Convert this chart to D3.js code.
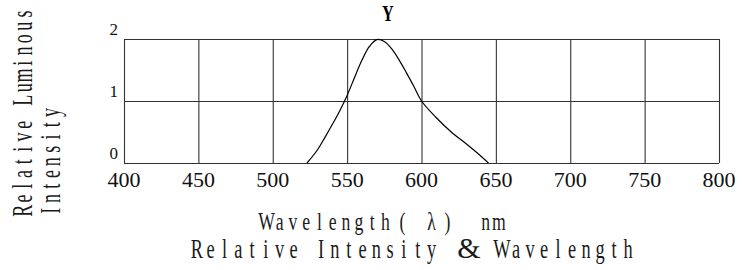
<!DOCTYPE html>
<html>
<head>
<meta charset="utf-8">
<script src="https://cdn.jsdelivr.net/npm/d3@7"></script>
<style>
  body { margin: 0; background: #fff; }
  svg { display: block; }
</style>
</head>
<body>
<svg id="chart" width="745" height="270"></svg>
<script>
// wavelength ticks and y ticks
const xTicks = [400, 450, 500, 550, 600, 650, 700, 750, 800];
const yTicks = [0, 1, 2];

// curve
const wavelength = [523, 530, 535, 540, 545, 550, 555, 560, 565, 570, 575, 580, 585, 590, 595, 600, 610, 620, 630, 640, 645];
const intensity = [0, 0.21, 0.41, 0.62, 0.84, 1.09, 1.38, 1.66, 1.88, 1.99, 1.96, 1.84, 1.66, 1.45, 1.23, 1.0, 0.73, 0.5, 0.31, 0.11, 0];

const svg = d3.select("#chart");

const x = d3.scaleLinear().domain([400, 800]).range([124, 719]);
const y = d3.scaleLinear().domain([0, 2]).range([163, 39]);

const gridColor = "#333";
const serif = "Liberation Serif";

// lay a string out in fixed-width cells, each glyph centred in its cell
// and squeezed sideways (the original uses a tall, narrow song-style face)
function cellText(g, str, x0, yb, cell, sx) {
  g.selectAll(null)
    .data(Array.from(str))
    .join("text")
    .attr("text-anchor", "middle")
    .attr("transform", (c, i) => `translate(${x0 + (i + 0.5) * cell},${yb}) scale(${sx},1)`)
    .text(c => c);
}

// vertical grid
svg.append("g")
  .attr("transform", `translate(0,${y(0)})`)
  .call(d3.axisBottom(x).tickValues(xTicks).tickSize(-(y(0) - y(2))).tickFormat(""))
  .call(g => g.select(".domain").remove())
  .call(g => g.selectAll("line").attr("stroke", gridColor).attr("stroke-width", 1.1));

// horizontal grid
svg.append("g")
  .attr("transform", `translate(${x(400)},0)`)
  .call(d3.axisLeft(y).tickValues(yTicks).tickSize(-(x(800) - x(400))).tickFormat(""))
  .call(g => g.select(".domain").remove())
  .call(g => g.selectAll("line").attr("stroke", gridColor).attr("stroke-width", 1.1));

// x tick labels
svg.append("g")
  .selectAll("text")
  .data(xTicks)
  .join("text")
  .attr("x", d => x(d))
  .attr("y", y(0) + 24)
  .attr("text-anchor", "middle")
  .attr("font-family", serif)
  .attr("font-size", 22)
  .attr("fill", "#111")
  .text(d => d);

// y tick labels
svg.append("g")
  .selectAll("text")
  .data(yTicks)
  .join("text")
  .attr("x", x(400) - 6)
  .attr("y", d => y(d) - 4)
  .attr("text-anchor", "end")
  .attr("font-family", serif)
  .attr("font-size", 17)
  .attr("fill", "#111")
  .text(d => d);

// the curve
const line = d3.line()
  .x((d, i) => x(wavelength[i]))
  .y(d => y(d))
  .curve(d3.curveCatmullRom);

svg.append("path")
  .datum(intensity)
  .attr("d", line)
  .attr("fill", "none")
  .attr("stroke", "#000")
  .attr("stroke-width", 1.2);

// title
svg.append("text")
  .attr("transform", "translate(388,21) scale(0.68,1)")
  .attr("text-anchor", "middle")
  .attr("font-family", serif)
  .attr("font-weight", "bold")
  .attr("font-size", 24)
  .text("Y");

// y axis title
const yTitle = svg.append("g")
  .attr("transform", "translate(0,217) rotate(-90)")
  .attr("font-family", serif)
  .attr("font-size", 30)
  .attr("fill", "#1a1a1a");
cellText(yTitle.append("g"), "Relative Luminous", 0, 32, 12.3, 0.6);
cellText(yTitle.append("g"), "Intensity", 0, 60, 12.3, 0.6);

// x axis title
const xTitle = svg.append("g")
  .attr("font-family", serif)
  .attr("font-size", 26)
  .attr("fill", "#1a1a1a");
const cx = 13.2;
cellText(xTitle.append("g"), "Wavelength", 260, 230, cx, 0.68);
[["(", 10.3], ["λ", 12.5], [")", 13.7], ["nm", 16.6]].forEach(([s, c]) => {
  cellText(xTitle.append("g"), s, 260 + c * cx, 230, cx, 0.68);
});

// caption
const caption = svg.append("g")
  .attr("font-family", serif)
  .attr("font-size", 27)
  .attr("fill", "#1a1a1a");
cellText(caption.append("g"), "Relative Intensity", 190, 258, 13.8, 0.68);
caption.append("text")
  .attr("x", 469)
  .attr("y", 258)
  .attr("text-anchor", "middle")
  .attr("font-size", 30)
  .text("&");
cellText(caption.append("g"), "Wavelength", 495, 258, 14, 0.68);
</script>
</body>
</html>
